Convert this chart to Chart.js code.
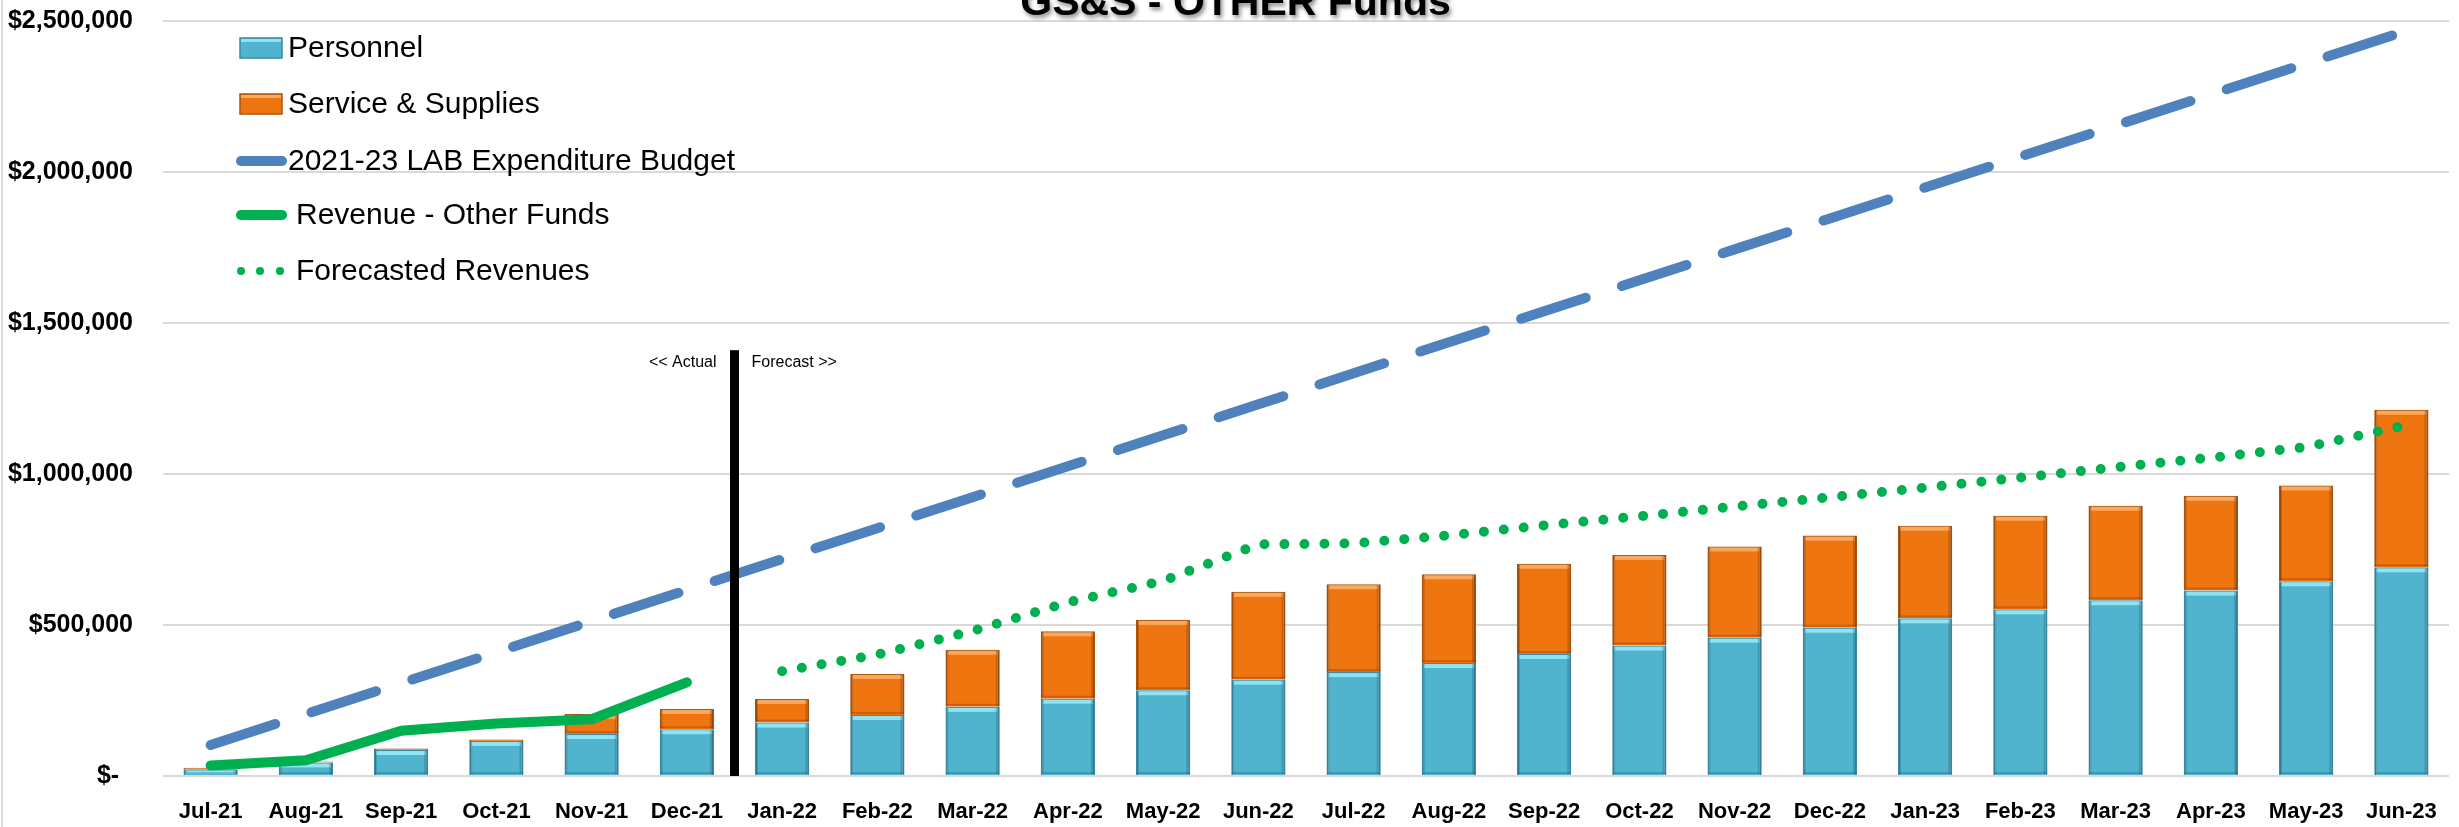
<!DOCTYPE html>
<html>
<head>
<meta charset="utf-8">
<script src="https://cdn.jsdelivr.net/npm/chart.js@4.4.1/dist/chart.umd.min.js"></script>
<style>
  html, body { margin: 0; padding: 0; background: #fff; }
  #wrap { width: 2459px; height: 827px; position: relative; }
</style>
</head>
<body>
<div id="wrap"><canvas id="chart"></canvas></div>
<script>
// values
const months = ['Jul-21', 'Aug-21', 'Sep-21', 'Oct-21', 'Nov-21', 'Dec-21', 'Jan-22', 'Feb-22',
  'Mar-22', 'Apr-22', 'May-22', 'Jun-22', 'Jul-22', 'Aug-22', 'Sep-22', 'Oct-22', 'Nov-22',
  'Dec-22', 'Jan-23', 'Feb-23', 'Mar-23', 'Apr-23', 'May-23', 'Jun-23'];

const personnel = [22000, 45000, 86000, 116000, 139000, 155000, 177000, 202000, 229000, 256000,
  284000, 319000, 344000, 374000, 404000, 432000, 458000, 491000, 522000, 552000, 582000,
  614000, 645000, 691000];

const supplies = [5000, 3000, 5000, 5000, 66000, 67000, 78000, 136000, 189000, 223000, 233000,
  291000, 291000, 294000, 299000, 300000, 302000, 305000, 307000, 310000, 313000, 314000,
  317000, 522000];

const budget = [102600, 205200, 307700, 410300, 512900, 615500, 718000, 820600, 923200, 1025800,
  1128300, 1230900, 1333500, 1436100, 1538700, 1641200, 1743800, 1846400, 1949000, 2051500,
  2154100, 2256700, 2359300, 2461800];

const revenue = [35000, 52000, 150000, 174000, 188000, 310000, null, null, null, null, null, null,
  null, null, null, null, null, null, null, null, null, null, null, null];

const forecast = [null, null, null, null, null, null, 347000, 402000, 480000, 575000, 646000,
  767000, 770000, 797000, 830000, 860000, 892000, 923000, 955000, 988000, 1022000, 1054000,
  1089000, 1158000];

const yTicks = [0, 500000, 1000000, 1500000, 2000000, 2500000];

const chartTitle = 'GS&S - OTHER Funds';
const actualText = '<< Actual';
const forecastText = 'Forecast >>';

const BLUE = '#50B4CF';
const ORANGE = '#EF7511';
const BUDGET = '#4F81BD';
const GREEN = '#00B050';

// light band on top of each bar segment (the excel bevel look)
const bevel = {
  id: 'bevel',
  afterDatasetDraw(chart, args) {
    const meta = args.meta;
    if (meta.type !== 'bar') return;
    const ctx = chart.ctx;
    const light = meta.index === 0 ? '#8FE3F3' : '#F9A85E';
    const dark = meta.index === 0 ? 'rgba(30,90,110,0.30)' : 'rgba(120,50,0,0.30)';
    ctx.save();
    meta.data.forEach(bar => {
      const top = Math.min(bar.y, bar.base);
      const h = Math.abs(bar.base - bar.y);
      if (h < 2) return;
      const left = bar.x - bar.width / 2;
      ctx.fillStyle = light;
      ctx.fillRect(left + 2, top + 1, bar.width - 4, Math.min(4, h - 2));
      ctx.fillStyle = dark;
      ctx.fillRect(left + bar.width - 4, top + 1, 3, h - 2);
      ctx.fillRect(left + 1, top + 1, 2, h - 2);
      ctx.fillRect(left + 1, bar.base - 3, bar.width - 2, 2);
    });
    ctx.restore();
  }
};

const divider = {
  id: 'divider',
  afterDatasetsDraw(chart) {
    const { ctx, scales: { x, y } } = chart;
    const xm = (x.getPixelForValue(5) + x.getPixelForValue(6)) / 2;
    const top = y.getPixelForValue(1410000);
    const bottom = y.getPixelForValue(0);
    ctx.save();
    ctx.fillStyle = '#000';
    ctx.fillRect(xm - 4.5, top, 9, bottom - top);
    ctx.font = '16px "Liberation Sans", Arial, sans-serif';
    ctx.textBaseline = 'middle';
    ctx.textAlign = 'right';
    ctx.fillText(actualText, xm - 18, top + 12);
    ctx.textAlign = 'left';
    ctx.fillText(forecastText, xm + 17, top + 12);
    ctx.restore();
  }
};

const frame = {
  id: 'frame',
  beforeDraw(chart) {
    const ctx = chart.ctx;
    ctx.save();
    ctx.fillStyle = '#D9D9D9';
    ctx.fillRect(1, 0, 2, chart.height);
    ctx.restore();
  },
  afterDraw(chart) {
    const ctx = chart.ctx;
    ctx.save();
    ctx.font = 'bold 41px "Liberation Sans", Arial, sans-serif';
    ctx.textAlign = 'center';
    ctx.textBaseline = 'alphabetic';
    ctx.shadowColor = 'rgba(0,0,0,0.45)';
    ctx.shadowBlur = 4;
    ctx.shadowOffsetX = 2;
    ctx.shadowOffsetY = 3;
    ctx.fillStyle = '#000';
    ctx.fillText(chartTitle, chart.width / 2 + 6, 15);
    ctx.restore();
  }
};

// legend drawn as a plain list inside the plot, like the original
const sideLegend = {
  id: 'sideLegend',
  afterDraw(chart) {
    const ctx = chart.ctx;
    const ds = chart.data.datasets;
    const rows = [48, 104, 161, 215, 271];
    ctx.save();
    ctx.font = '30px "Liberation Sans", Arial, sans-serif';
    ctx.textBaseline = 'middle';
    ds.forEach((d, i) => {
      const yy = rows[i];
      let tx = 288;
      if (d.type === 'bar') {
        ctx.fillStyle = d.backgroundColor;
        ctx.fillRect(240, yy - 10, 42, 20);
        ctx.fillStyle = i === 0 ? '#8FE3F3' : '#F9A85E';
        ctx.fillRect(241, yy - 9, 40, 3);
        ctx.strokeStyle = d.borderColor;
        ctx.lineWidth = 1.5;
        ctx.strokeRect(240, yy - 10, 42, 20);
      } else if (d.borderDash && d.borderDash[0] === 0) {
        ctx.fillStyle = d.borderColor;
        [241, 260, 280].forEach(cx => {
          ctx.beginPath();
          ctx.arc(cx, yy, 4, 0, Math.PI * 2);
          ctx.fill();
        });
        tx = 296;
      } else {
        ctx.strokeStyle = d.borderColor;
        ctx.lineWidth = 10;
        ctx.lineCap = 'round';
        ctx.beginPath();
        ctx.moveTo(241, yy);
        ctx.lineTo(282, yy);
        ctx.stroke();
        if (i === 3) tx = 296;
      }
      ctx.fillStyle = '#000';
      ctx.fillText(d.label, tx, yy + 1);
    });
    ctx.restore();
  }
};

function money(v) {
  if (v === 0) return '$-  ';
  return '$' + v.toLocaleString('en-US');
}

new Chart(document.getElementById('chart'), {
  data: {
    labels: months,
    datasets: [
      {
        type: 'bar', label: 'Personnel', data: personnel, stack: 'cost', order: 2,
        backgroundColor: BLUE, borderColor: '#3C8BA3', borderWidth: 2,
        barPercentage: 0.57, categoryPercentage: 1
      },
      {
        type: 'bar', label: 'Service & Supplies', data: supplies, stack: 'cost', order: 2,
        backgroundColor: ORANGE, borderColor: '#A9560F', borderWidth: 2,
        barPercentage: 0.57, categoryPercentage: 1
      },
      {
        type: 'line', label: '2021-23 LAB Expenditure Budget', data: budget, stack: 'b', order: 1,
        borderColor: BUDGET, borderWidth: 10, borderDash: [68, 38], borderCapStyle: 'round',
        pointRadius: 0, fill: false, tension: 0
      },
      {
        type: 'line', label: 'Revenue - Other Funds', data: revenue, stack: 'r', order: 1,
        borderColor: GREEN, borderWidth: 10, borderCapStyle: 'round', borderJoinStyle: 'round',
        pointRadius: 0, fill: false, tension: 0
      },
      {
        type: 'line', label: 'Forecasted Revenues', data: forecast, stack: 'f', order: 1,
        borderColor: GREEN, borderWidth: 10, borderDash: [0, 20], borderCapStyle: 'round',
        pointRadius: 0, fill: false, tension: 0
      }
    ]
  },
  options: {
    responsive: true,
    maintainAspectRatio: false,
    animation: false,
    layout: { padding: { top: 21, right: 10, left: 0, bottom: 0 } },
    plugins: {
      legend: { display: false },
      title: { display: false },
      tooltip: { enabled: false }
    },
    scales: {
      x: {
        stacked: true,
        grid: { display: false },
        border: { display: false },
        ticks: {
          color: '#000', autoSkip: false, maxRotation: 0, padding: 15,
          font: { family: '"Liberation Sans", Arial, sans-serif', size: 22, weight: 'bold' }
        },
        afterFit: s => { s.height = 51; }
      },
      y: {
        stacked: true,
        min: 0,
        max: 2500000,
        afterBuildTicks: s => { s.ticks = yTicks.map(v => ({ value: v })); },
        grid: { color: '#D9D9D9', lineWidth: 2, drawTicks: true, tickLength: 30, tickColor: 'rgba(0,0,0,0)' },
        border: { display: false },
        ticks: {
          color: '#000', padding: 0,
          font: { family: '"Liberation Sans", Arial, sans-serif', size: 25, weight: 'bold' },
          callback: v => money(v)
        },
        afterFit: s => { s.width = 163; }
      }
    }
  },
  plugins: [frame, bevel, divider, sideLegend]
});
</script>
</body>
</html>
